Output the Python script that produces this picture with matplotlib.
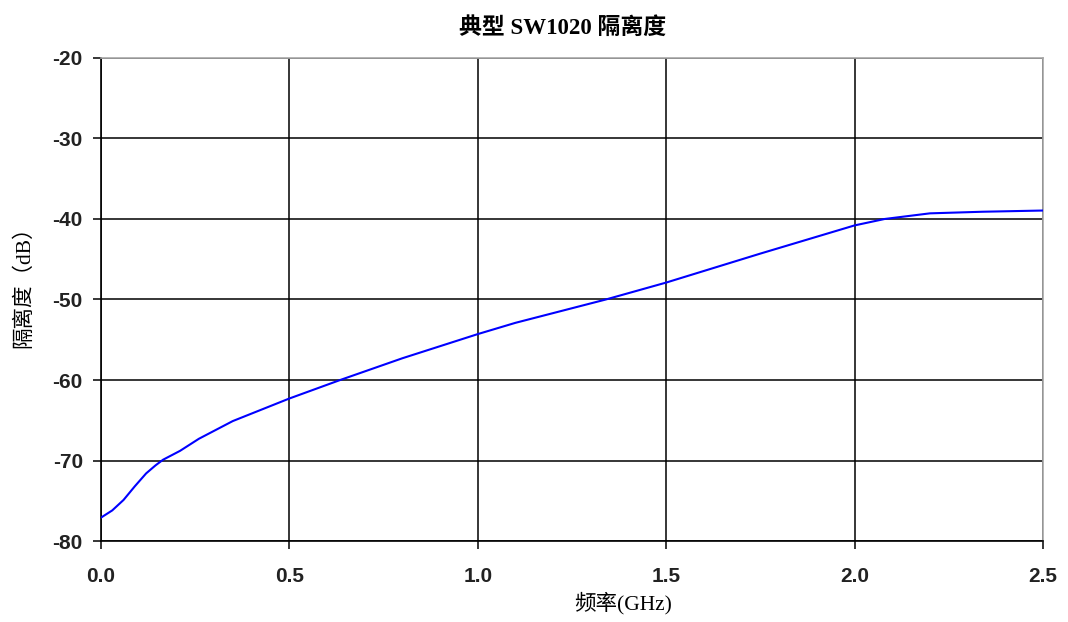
import numpy as np
import matplotlib.pyplot as plt

# 频率 (GHz) 和 隔离度 (dB)
freq = [0.0, 0.03, 0.06, 0.09, 0.12, 0.145, 0.165, 0.21, 0.26, 0.35, 0.5, 0.635, 0.8,
        1.0, 1.1, 1.34, 1.5, 1.75, 2.0, 2.08, 2.2, 2.34, 2.5]
iso = [-77.1, -76.2, -74.9, -73.2, -71.6, -70.6, -69.9, -68.8, -67.3, -65.1, -62.3, -60.0, -57.3,
       -54.3, -52.9, -50.0, -47.9, -44.3, -40.8, -40.0, -39.3, -39.1, -38.95]

xticks = [0.0, 0.5, 1.0, 1.5, 2.0, 2.5]
yticks = [-80, -70, -60, -50, -40, -30, -20]

serif_cjk = ['Liberation Serif', 'Noto Sans CJK SC']

fig = plt.figure(figsize=(10.68, 6.22), dpi=100)
ax = fig.add_axes([0.0945, 0.1302, 0.8820, 0.7766])

ax.plot(freq, iso, color='#0000ff', lw=1.5, zorder=3)

ax.set_xlim(0, 2.5)
ax.set_ylim(-80, -20)
ax.set_xticks(xticks)
ax.set_yticks(yticks)
ax.set_xticklabels(['%.1f' % v for v in xticks])
ax.set_yticklabels([str(v) for v in yticks])
ax.grid(True, color='black', lw=1.1)
ax.set_axisbelow(True)

for lab in ax.get_xticklabels() + ax.get_yticklabels():
    lab.set_family('Liberation Sans')
    lab.set_fontweight('bold')
    lab.set_fontsize(15)
    lab.set_color('#222222')
ax.tick_params(axis='x', length=6, width=1.1, pad=13, direction='out')
ax.tick_params(axis='y', length=6, width=1.1, pad=7, direction='out')

ax.spines['left'].set_color('black')
ax.spines['bottom'].set_color('black')
ax.spines['top'].set_color('#a8a8a8')
ax.spines['right'].set_color('#a8a8a8')
for s in ax.spines.values():
    s.set_linewidth(1.2)

fig.text(0.527, 0.955, '典型 SW1020 隔离度', ha='center', va='center',
         family=serif_cjk, fontweight='bold', fontsize=16.5)
fig.text(0.583, 0.031, '频率(GHz)', ha='center', va='center',
         family=serif_cjk, fontsize=15.5)
fig.text(0.022, 0.547, '隔离度（dB）', ha='center', va='center', rotation=90,
         family=serif_cjk, fontsize=15.5)

fig.savefig('out.png', dpi=100)
